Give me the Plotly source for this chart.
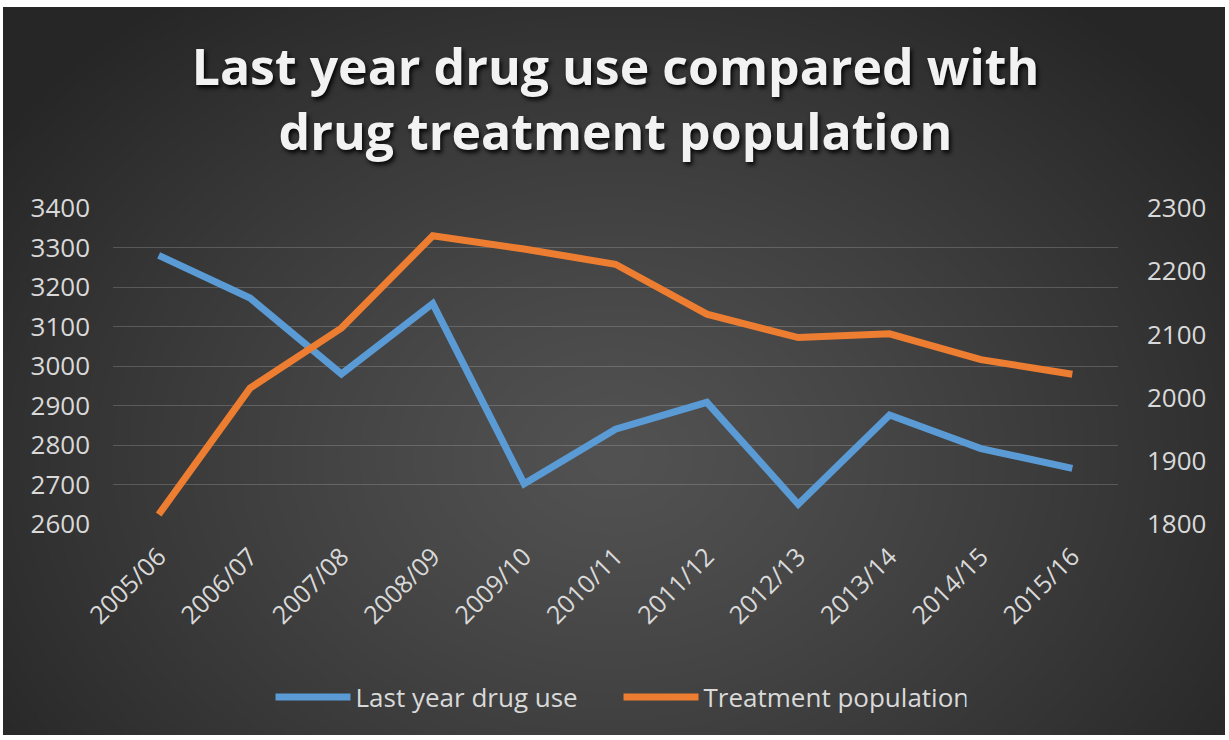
import base64
import struct
import zlib

import numpy as np
import plotly.graph_objects as go

# ---------------- data ----------------
years = ["2005/06", "2006/07", "2007/08", "2008/09", "2009/10", "2010/11",
         "2011/12", "2012/13", "2013/14", "2014/15", "2015/16"]
last_year_drug_use = [3280, 3172, 2980, 3158, 2702, 2840, 2908, 2650, 2876, 2791, 2741]
treatment_population = [1815, 2015, 2110, 2256, 2235, 2211, 2132, 2095, 2101, 2060, 2037]
left_ticks = [2600, 2700, 2800, 2900, 3000, 3100, 3200, 3300, 3400]
right_ticks = [1800, 1900, 2000, 2100, 2200, 2300]

W, H = 1229, 740
ML, MR, MT, MB = 113, 111, 208, 216
PW, PH = W - ML - MR, H - MT - MB


# ---------------- radial gradient background (PNG data URI) ----------------
def make_png(arr):
    h, w, _ = arr.shape
    raw = b"".join(b"\x00" + arr[i].tobytes() for i in range(h))

    def chunk(tag, data):
        c = struct.pack(">I", len(data)) + tag + data
        return c + struct.pack(">I", zlib.crc32(tag + data) & 0xFFFFFFFF)

    png = b"\x89PNG\r\n\x1a\n"
    png += chunk(b"IHDR", struct.pack(">IIBBBBB", w, h, 8, 2, 0, 0, 0))
    png += chunk(b"IDAT", zlib.compress(raw, 9))
    png += chunk(b"IEND", b"")
    return "data:image/png;base64," + base64.b64encode(png).decode()


gw, gh = 400, 240
xx, yy = np.meshgrid(np.linspace(0, 1, gw), np.linspace(0, 1, gh))
d = np.sqrt(((xx - 0.5) / 0.62) ** 2 + ((yy - 0.62) / 0.8) ** 2)
d = np.clip(d, 0, 1)
c_in, c_out = 82.0, 38.0
val = c_in + (c_out - c_in) * d ** 1.2
img = np.stack([val, val, val], axis=-1).astype(np.uint8)
bg_uri = make_png(img)

BX0, BY0, BX1, BY1 = 3, 7, 1225, 735

TEXT = "#D9D9D9"
FONT = "Open Sans"

fig = go.Figure()
fig.add_trace(go.Scatter(
    x=years, y=last_year_drug_use, name="Last year drug use", mode="lines",
    line=dict(color="#5B9BD5", width=7), yaxis="y"))
fig.add_trace(go.Scatter(
    x=years, y=treatment_population, name="Treatment population", mode="lines",
    line=dict(color="#ED7D31", width=7), yaxis="y2"))

fig.update_layout(
    width=W, height=H, autosize=False,
    margin=dict(l=ML, r=MR, t=MT, b=MB, pad=0),
    paper_bgcolor="white",
    plot_bgcolor="rgba(0,0,0,0)",
    images=[dict(
        source=bg_uri, xref="paper", yref="paper",
        x=(BX0 - ML) / PW, y=1 + (MT - BY0) / PH,
        sizex=(BX1 - BX0) / PW, sizey=(BY1 - BY0) / PH,
        xanchor="left", yanchor="top", sizing="stretch", layer="below")],
    title=dict(
        text="Last year drug use compared with<br>drug treatment population",
        x=0.5, xref="paper", xanchor="center",
        y=1 - 85 / H, yref="container", yanchor="middle",
        font=dict(family="Open Sans", size=50, color="#F2F2F2", weight="bold",
                  shadow="2px 3px 4px rgba(0,0,0,0.9)")),
    xaxis=dict(
        type="category", range=[-0.5, 10.5], showgrid=False, showline=False,
        zeroline=False, ticks="", tickangle=-45, ticklabelstandoff=12,
        tickfont=dict(family=FONT, size=25, color=TEXT)),
    yaxis=dict(
        range=[2600, 3400], tickvals=left_ticks, showgrid=True,
        gridcolor="rgba(217,217,217,0.22)", gridwidth=1, zeroline=False,
        showline=False, ticks="", ticklabelstandoff=22,
        tickfont=dict(family=FONT, size=26, color=TEXT)),
    yaxis2=dict(
        range=[1800, 2300], tickvals=right_ticks, overlaying="y", side="right",
        showgrid=False, zeroline=False, showline=False, ticks="",
        ticklabelstandoff=28,
        tickfont=dict(family=FONT, size=26, color=TEXT)),
    showlegend=True,
    legend=dict(
        orientation="h", x=0.503, xanchor="center",
        y=-(697 - (MT + PH)) / PH, yanchor="middle",
        font=dict(family=FONT, size=26, color=TEXT),
        bgcolor="rgba(0,0,0,0)", itemwidth=75, entrywidth=258),
)

fig.write_html("out.html")
